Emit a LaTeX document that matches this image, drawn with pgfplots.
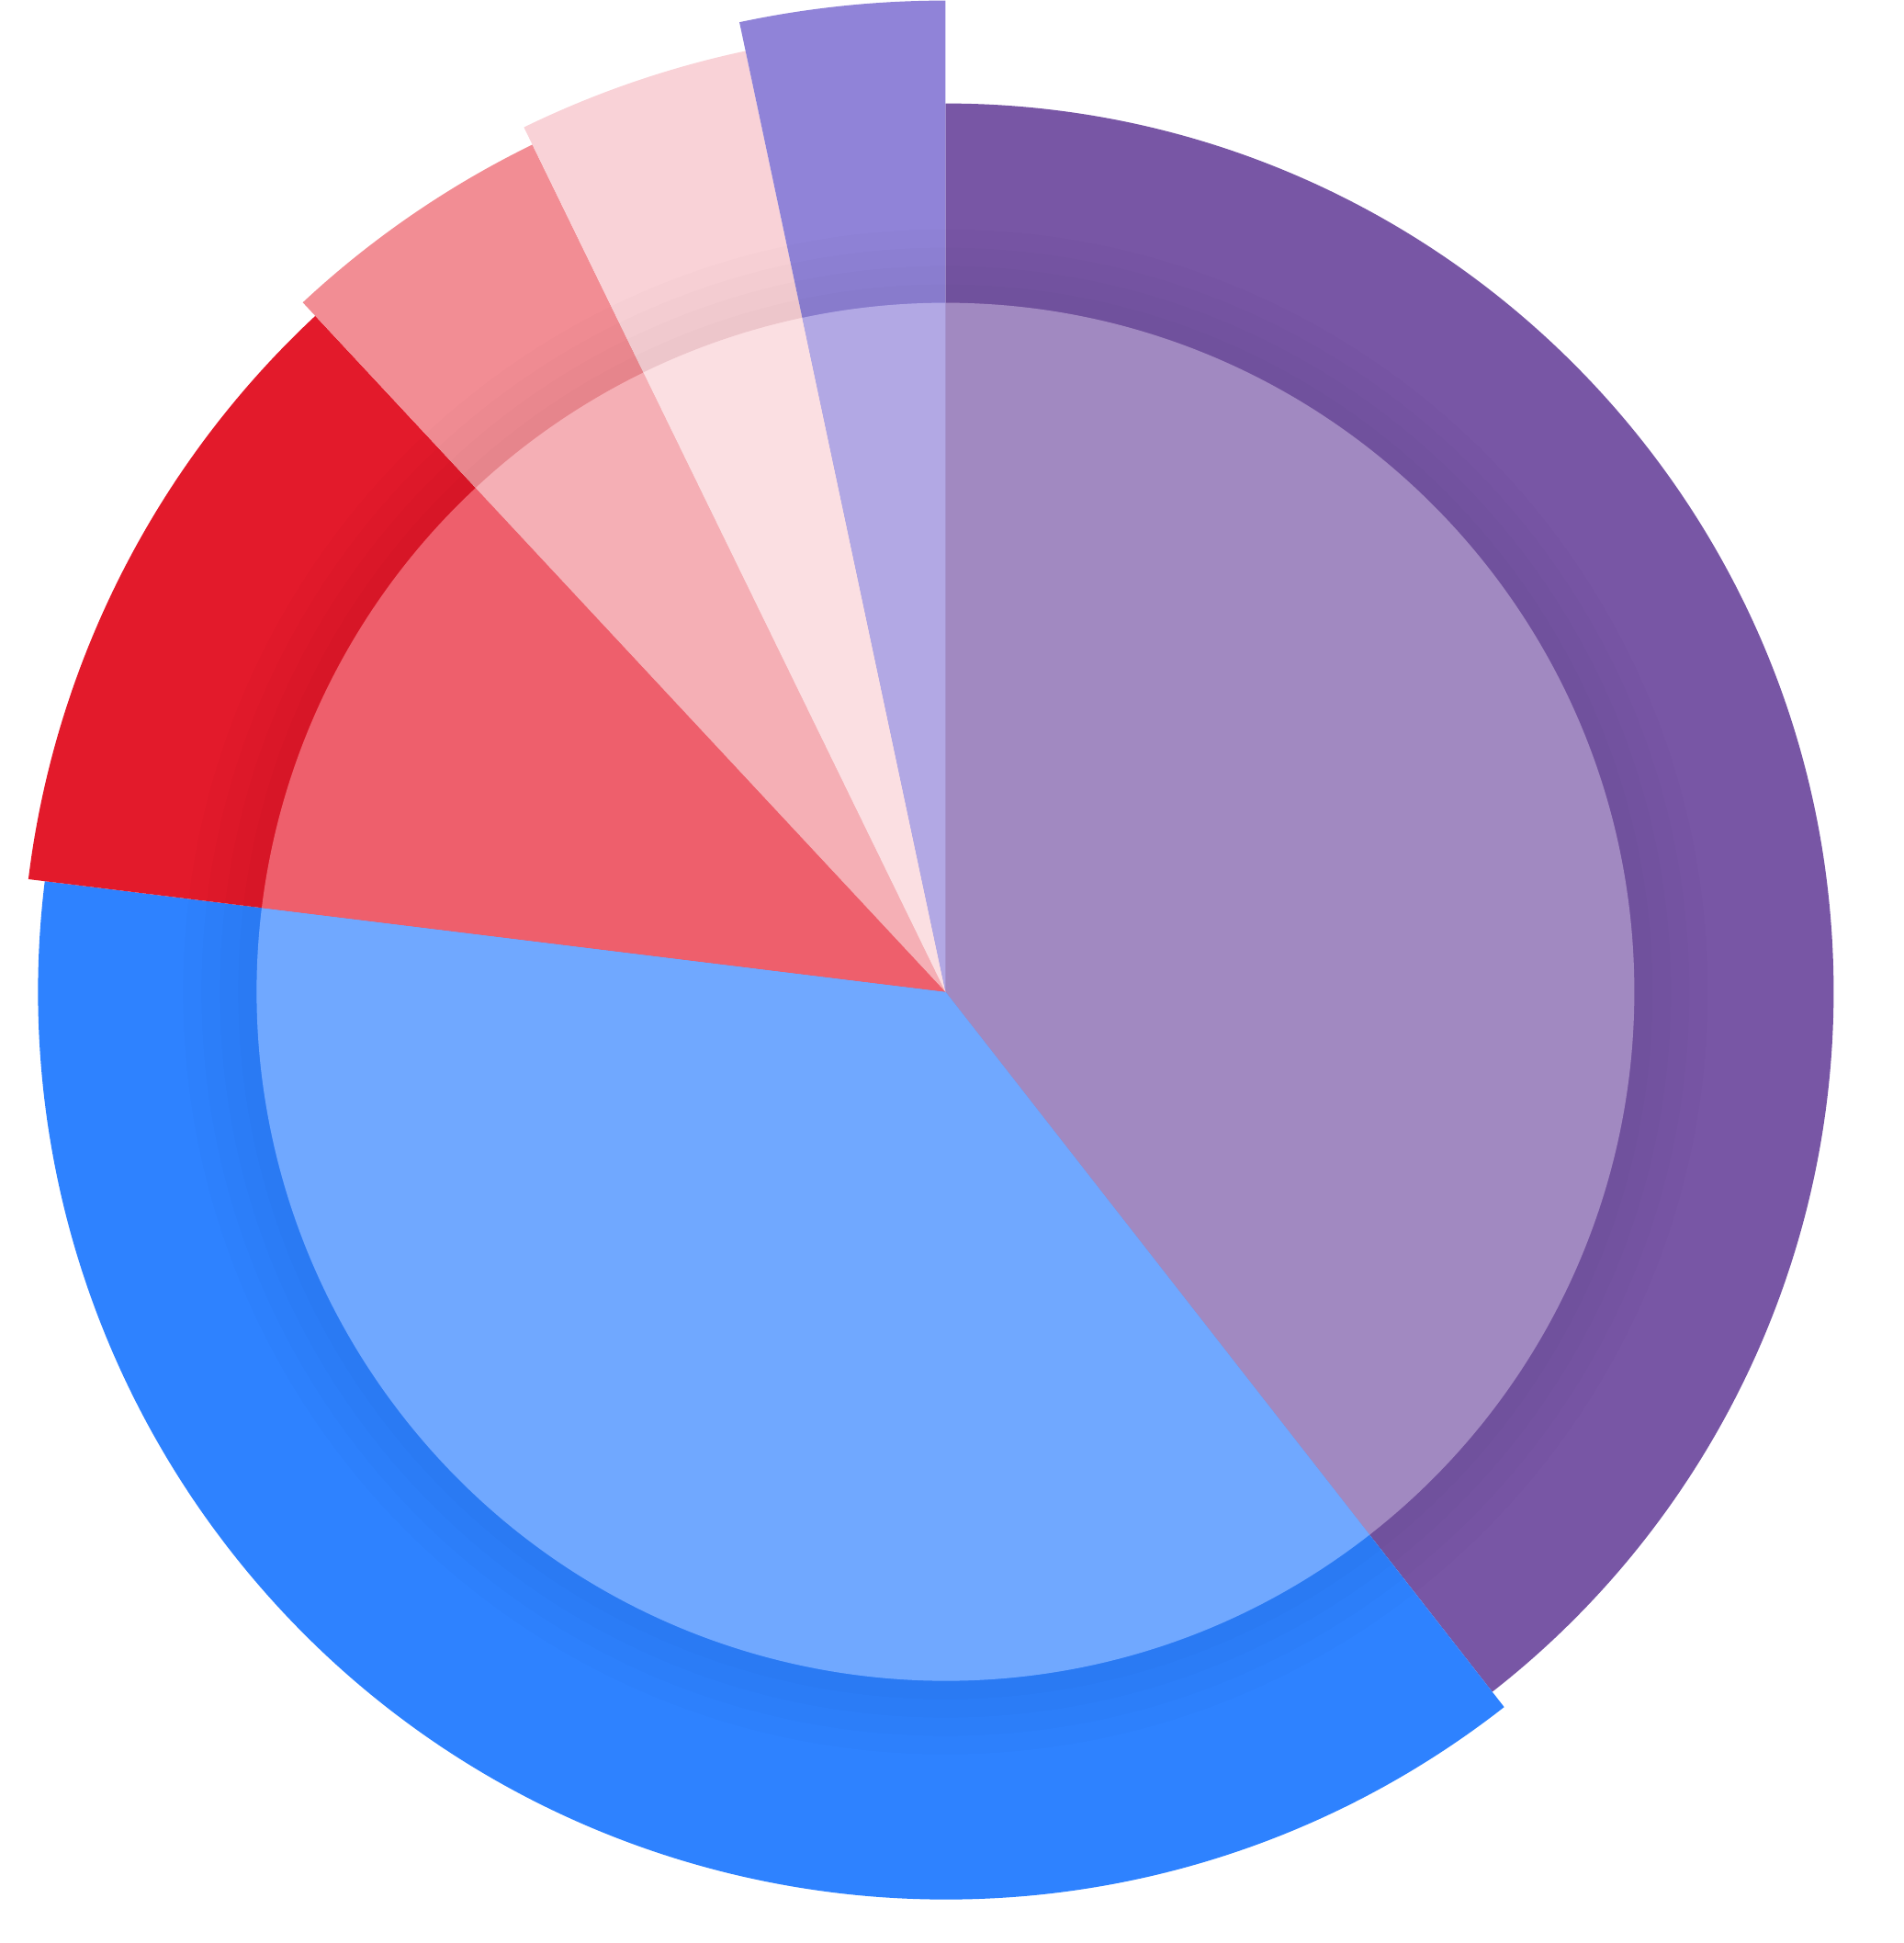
\documentclass[border=0pt]{standalone}
\usepackage{pgfplots}
\pgfplotsset{compat=1.18}
\definecolor{purpleO}{HTML}{7856A5}\definecolor{purpleI}{HTML}{A189C1}
\definecolor{blueO}{HTML}{2E82FF}\definecolor{blueI}{HTML}{70A8FF}
\definecolor{redO}{HTML}{E31A2B}\definecolor{redI}{HTML}{EE5F6C}
\definecolor{pinkO}{HTML}{F28D94}\definecolor{pinkI}{HTML}{F5AFB5}
\definecolor{lpinkO}{HTML}{F9D2D7}\definecolor{lpinkI}{HTML}{FBDFE2}
\definecolor{lavO}{HTML}{9083D8}\definecolor{lavI}{HTML}{B2A8E4}
% sector: colour, start angle, end angle, radius (cm)
\newcommand\sector[4]{\fill[#1] (axis cs:0,0) -- ++(#2:#4cm) arc[start angle=#2, end angle=#3, radius=#4cm] -- cycle;}
\begin{document}
\begin{tikzpicture}
\useasboundingbox (0,0) rectangle (20.73cm,21.15cm);
\begin{axis}[at={(0,0)}, anchor=south west, x=0.01cm, y=0.01cm,
  xmin=-1030, xmax=1043, ymin=-1036, ymax=1079, hide axis, clip=false]
% outer sectors (angles in degrees, radius in cm)
\sector{purpleO}{90}{-52}{9.67}
\sector{blueO}{-52}{-187}{9.88}
\sector{redO}{-187}{-227}{10.06}
\sector{pinkO}{-227}{-244}{10.26}
\sector{lpinkO}{-244}{-258}{10.47}
\sector{lavO}{-258}{-270}{10.79}
% soft shadow around the inner disc
\pgfplotsinvokeforeach{1,...,4}{
  \fill[black, opacity=0.01, even odd rule] (axis cs:0,0) circle[radius={(7.5+0.2*#1)*1cm}] circle[radius=7.5cm];
}
% inner sectors
\sector{purpleI}{90}{-52}{7.5}
\sector{blueI}{-52}{-187}{7.5}
\sector{redI}{-187}{-227}{7.5}
\sector{pinkI}{-227}{-244}{7.5}
\sector{lpinkI}{-244}{-258}{7.5}
\sector{lavI}{-258}{-270}{7.5}
\end{axis}
\end{tikzpicture}
\end{document}
